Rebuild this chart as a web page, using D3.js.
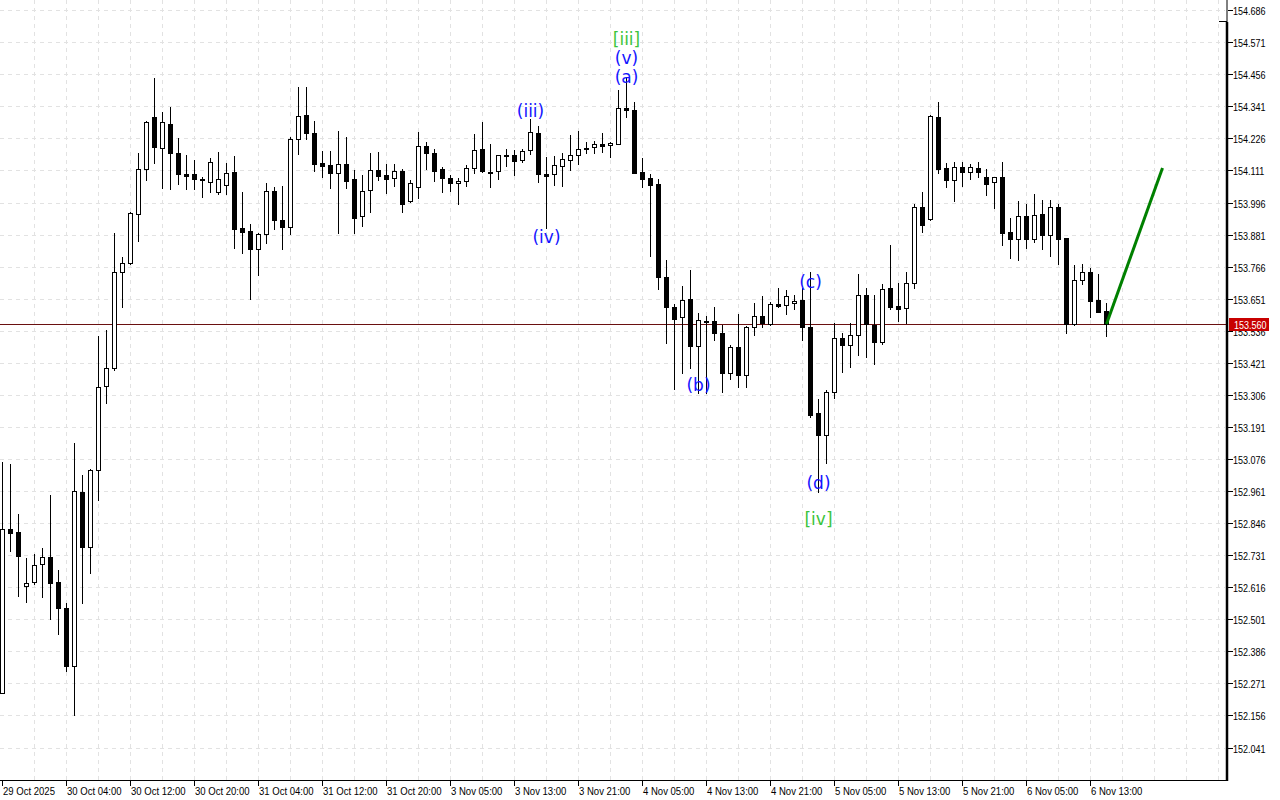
<!DOCTYPE html>
<html><head><meta charset="utf-8">
<script src="https://cdn.jsdelivr.net/npm/d3@7"></script>
<style>html,body{margin:0;padding:0;background:#fff;}svg{display:block;}</style>
</head><body>
<svg id="chart" width="1280" height="800"></svg>
<script>
const open = [152.235,152.824,152.813,152.621,152.634,152.698,152.724,152.634,152.540,152.334,152.958,152.761,153.037,153.338,153.401,153.746,153.778,153.954,154.115,154.302,154.193,154.277,154.173,154.097,154.097,154.080,154.071,154.033,154.058,154.105,153.904,153.893,153.828,153.882,154.036,153.932,153.907,154.223,154.310,154.246,154.137,154.131,154.101,154.134,154.080,153.947,154.040,154.113,154.095,154.083,154.108,154.000,154.051,154.198,154.173,154.115,154.083,154.065,154.073,154.121,154.187,154.105,154.109,154.165,154.165,154.149,154.185,154.244,154.097,154.097,154.128,154.149,154.165,154.191,154.194,154.205,154.201,154.207,154.334,154.328,154.105,154.083,154.063,153.729,153.622,153.586,153.649,153.482,153.570,153.571,153.527,153.386,153.477,153.378,153.548,153.589,153.560,153.632,153.627,153.635,153.645,153.548,153.240,153.161,153.315,153.509,153.484,153.520,153.663,153.556,153.495,153.688,153.625,153.617,153.706,153.979,153.936,154.302,154.119,154.076,154.122,154.106,154.119,154.087,154.069,154.087,153.889,153.866,153.948,153.866,153.954,153.881,153.979,153.868,153.559,153.718,153.746,153.645,153.606];
const high = [153.065,153.058,152.878,152.720,152.734,152.756,152.946,152.677,152.559,153.132,153.018,153.039,153.517,153.539,153.886,153.800,153.962,154.173,154.289,154.442,154.320,154.338,154.226,154.167,154.149,154.089,154.155,154.178,154.137,154.162,154.033,153.919,153.887,154.065,154.051,154.055,154.232,154.412,154.412,154.289,154.182,154.181,154.254,154.230,154.113,154.095,154.173,154.176,154.134,154.134,154.117,154.077,154.250,154.213,154.187,154.122,154.095,154.083,154.131,154.242,154.285,154.206,154.167,154.187,154.185,154.187,154.296,154.272,154.159,154.163,154.173,154.238,154.253,154.214,154.217,154.244,154.213,154.400,154.447,154.358,154.155,154.098,154.080,153.790,153.632,153.697,153.754,153.599,153.589,153.620,153.557,153.485,153.595,153.553,153.637,153.661,153.640,153.688,153.682,153.664,153.688,153.746,153.290,153.324,153.565,153.527,153.563,153.740,153.688,153.664,153.704,153.844,153.708,153.746,153.991,154.034,154.310,154.357,154.137,154.141,154.141,154.134,154.141,154.115,154.088,154.141,153.941,154.002,153.990,154.027,154.005,154.005,153.991,153.869,153.772,153.776,153.760,153.740,153.635];
const low = [152.235,152.747,152.586,152.564,152.628,152.582,152.502,152.449,152.314,152.159,152.558,152.668,152.929,153.278,153.395,153.622,153.776,153.859,154.077,154.139,154.049,154.044,154.063,154.046,154.046,154.017,154.035,154.026,154.027,153.834,153.816,153.651,153.736,153.850,153.902,153.830,153.882,154.170,154.224,154.110,154.089,154.049,153.886,154.047,153.888,153.913,153.963,154.077,154.031,154.056,153.963,153.998,154.011,154.117,154.074,154.033,154.037,153.990,154.056,154.101,154.106,154.051,154.080,154.127,154.094,154.140,154.170,154.071,153.904,154.059,154.056,154.113,154.134,154.173,154.173,154.178,154.160,154.207,154.302,154.103,154.050,153.804,153.685,153.493,153.328,153.383,153.401,153.312,153.312,153.503,153.315,153.363,153.335,153.335,153.521,153.548,153.557,153.622,153.596,153.614,153.504,153.228,152.957,153.063,153.296,153.389,153.405,153.449,153.443,153.416,153.489,153.614,153.571,153.563,153.688,153.891,153.934,154.103,154.053,154.003,154.056,154.079,154.089,154.023,153.978,153.844,153.798,153.790,153.832,153.856,153.828,153.805,153.774,153.527,153.557,153.703,153.586,153.604,153.518];
const close = [152.824,152.812,152.729,152.630,152.695,152.724,152.632,152.540,152.334,152.960,152.761,153.035,153.333,153.401,153.746,153.778,153.957,154.115,154.286,154.196,154.286,154.173,154.097,154.092,154.079,154.076,154.143,154.079,154.103,153.902,153.891,153.828,153.882,154.036,153.932,153.909,154.223,154.305,154.244,154.135,154.128,154.101,154.133,154.074,153.942,154.036,154.112,154.092,154.082,154.108,153.990,154.065,154.198,154.173,154.110,154.083,154.065,154.072,154.119,154.183,154.109,154.102,154.165,154.163,154.146,154.180,154.249,154.100,154.093,154.130,154.151,154.167,154.188,154.190,154.205,154.200,154.210,154.334,154.327,154.103,154.082,154.058,153.730,153.622,153.577,153.645,153.482,153.574,153.571,153.527,153.386,153.477,153.378,153.550,153.589,153.563,153.632,153.625,153.659,153.643,153.548,153.234,153.161,153.315,153.509,153.484,153.520,153.663,153.560,153.495,153.685,153.623,153.613,153.706,153.979,153.917,154.306,154.117,154.076,154.122,154.107,154.122,154.107,154.064,154.087,153.888,153.866,153.948,153.866,153.951,153.881,153.979,153.864,153.559,153.717,153.746,153.644,153.604,153.560];

const timeTickBars = [0,8,16,24,32,40,48,56,64,72,80,88,96,104,112,120,128,136];
const timeTickLabels = ["29 Oct 2025","30 Oct 04:00","30 Oct 12:00","30 Oct 20:00","31 Oct 04:00","31 Oct 12:00","31 Oct 20:00","3 Nov 05:00","3 Nov 13:00","3 Nov 21:00","4 Nov 05:00","4 Nov 13:00","4 Nov 21:00","5 Nov 05:00","5 Nov 13:00","5 Nov 21:00","6 Nov 05:00","6 Nov 13:00"];
const priceTicks = ["152.041","152.156","152.271","152.386","152.501","152.616","152.731","152.846","152.961","153.076","153.191","153.306","153.421","153.536","153.651","153.766","153.881","153.996","154.111","154.226","154.341","154.456","154.571","154.686"];

const waveText  = ["[iii]","(v)","(a)","(iii)","(iv)","(b)","(c)","(d)","[iv]"];
const waveBar   = [78,78,78,66,68,87,101,102,102];
const wavePrice = [154.583,154.513,154.448,154.324,153.872,153.343,153.712,152.990,152.859];
const waveKind  = ["minor","minute","minute","minute","minute","minute","minute","minute","minor"];

const forecastBars = [138,145];
const forecastPrices = [153.560,154.120];
const lastPrice = 153.560;

const W = 1280, H = 800;
const plotRight = 1227, plotBottom = 780;
const svg = d3.select("#chart");
svg.append("rect").attr("width",W).attr("height",H).attr("fill","#fff");

const x = d3.scaleLinear().domain([0,153]).range([2.5, 2.5+8*153]);
const y = d3.scaleLinear().domain([152.041,154.686]).range([747.5,10.2]);
const snap = v => Math.round(v)+0.5;

const grid = svg.append("g").attr("stroke","#e2e2e2").attr("stroke-dasharray","4,4").attr("shape-rendering","crispEdges");
priceTicks.forEach(t=>{
  const yy = snap(y(+t));
  grid.append("line").attr("x1",0).attr("x2",plotRight-2).attr("y1",yy).attr("y2",yy);
});
d3.range(4,153,4).forEach(b=>{
  const xx = x(b);
  grid.append("line").attr("x1",xx).attr("x2",xx).attr("y1",0).attr("y2",plotBottom);
});

// last price line
svg.append("line").attr("x1",0).attr("x2",plotRight).attr("y1",snap(y(lastPrice))).attr("y2",snap(y(lastPrice)))
  .attr("stroke","#6a1010").attr("stroke-width",1).attr("shape-rendering","crispEdges");

// candles
const cg = svg.append("g").attr("shape-rendering","crispEdges");
open.forEach((o,i)=>{
  const c = close[i], h = high[i], l = low[i];
  const cx = x(i);
  cg.append("line").attr("x1",cx).attr("x2",cx).attr("y1",Math.round(y(h))).attr("y2",Math.round(y(l))+1)
    .attr("stroke","#000").attr("stroke-width",1);
  const top = Math.round(y(Math.max(o,c))), bot = Math.round(y(Math.min(o,c)));
  const hh = Math.max(1, bot-top);
  cg.append("rect").attr("x",cx-2).attr("y",top+0.5).attr("width",4).attr("height",hh)
    .attr("fill", c>=o ? "#fff" : "#000").attr("stroke","#000").attr("stroke-width",1);
});

// forecast line
svg.append("line")
  .attr("x1",x(forecastBars[0])).attr("y1",y(forecastPrices[0]))
  .attr("x2",x(forecastBars[1])).attr("y2",y(forecastPrices[1]))
  .attr("stroke","#008000").attr("stroke-width",3);

// wave labels
svg.append("g").selectAll("text").data(waveText).join("text")
  .attr("x",(d,i)=>x(waveBar[i]))
  .attr("y",(d,i)=>y(wavePrice[i]))
  .attr("text-anchor","middle").attr("dominant-baseline","central")
  .attr("font-family","DejaVu Sans, sans-serif").attr("font-size",17)
  .attr("fill",(d,i)=>waveKind[i]==="minor" ? "#3cc43c" : "#1414ff")
  .text(d=>d);

// axes frame
svg.append("line").attr("x1",plotRight).attr("x2",plotRight).attr("y1",22).attr("y2",plotBottom+1)
  .attr("stroke","#000").attr("stroke-width",2.5);
svg.append("line").attr("x1",plotRight).attr("x2",plotRight).attr("y1",0).attr("y2",22)
  .attr("stroke","#000").attr("stroke-width",1);
svg.append("line").attr("x1",1219).attr("x2",plotRight).attr("y1",21.5).attr("y2",21.5)
  .attr("stroke","#000").attr("stroke-width",1);
svg.append("line").attr("x1",0).attr("x2",plotRight+1).attr("y1",plotBottom+0.5).attr("y2",plotBottom+0.5)
  .attr("stroke","#000").attr("stroke-width",1).attr("shape-rendering","crispEdges");

const axFont = "'Liberation Sans', Arial, sans-serif";
const addText = (g, tx, ty, str, fill, sx) =>
  g.append("text").attr("transform",`translate(${tx},${ty}) scale(${sx},1)`)
   .attr("font-family",axFont).attr("font-size",10.5).attr("fill",fill).text(str);

// price axis
const pa = svg.append("g");
priceTicks.forEach(t=>{
  const yy = snap(y(+t));
  pa.append("line").attr("x1",plotRight+1).attr("x2",plotRight+6).attr("y1",yy).attr("y2",yy)
    .attr("stroke","#000").attr("shape-rendering","crispEdges");
  addText(pa, plotRight+6, yy+4.5, t, "#000", 0.86);
});
// last price tag
const ly = y(lastPrice);
svg.append("rect").attr("x",1229).attr("y",Math.round(ly)-6).attr("width",40).attr("height",13).attr("fill","#c80000");
addText(svg, 1234, Math.round(ly)+4.5, lastPrice.toFixed(3), "#fff", 0.86);

// time axis
const ta = svg.append("g");
timeTickBars.forEach((b,i)=>{
  const xx = Math.floor(x(b))+0.5;
  ta.append("line").attr("x1",xx).attr("x2",xx).attr("y1",plotBottom+1).attr("y2",plotBottom+6)
    .attr("stroke","#000").attr("shape-rendering","crispEdges");
  addText(ta, xx+0.5, 795, timeTickLabels[i], "#000", 0.91);
});
</script>
</body></html>
